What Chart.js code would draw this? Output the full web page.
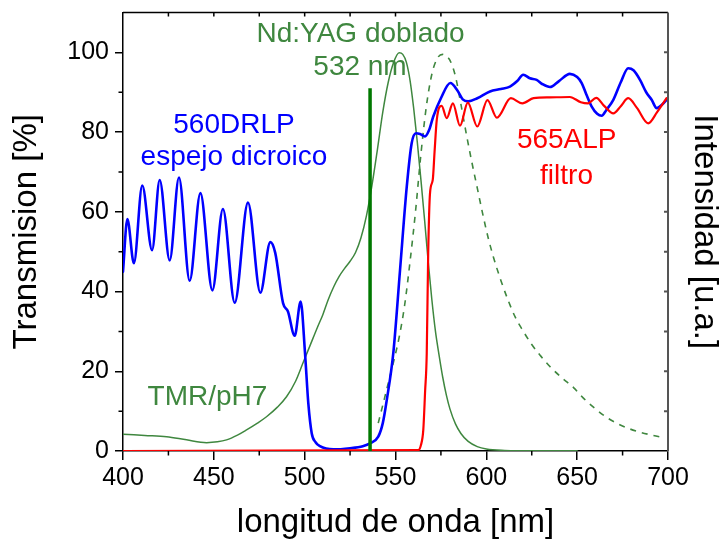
<!DOCTYPE html>
<html>
<head>
<meta charset="utf-8">
<script src="https://cdn.jsdelivr.net/npm/chart.js@4"></script>
<style>
  body { margin: 0; background: #fff; }
  #wrap { width: 720px; height: 540px; }
</style>
</head>
<body>
<div id="wrap"><canvas id="chart" width="720" height="540"></canvas></div>
<script>
// 560DRLP dichroic mirror transmission
const mirrorWl = [400, 402.4, 406, 410.6, 416, 420.2, 425.7, 430.8, 436.7, 442.6, 449.2, 455, 461.5, 468.8, 475.6, 481.1, 483.8, 488.1, 490.8, 494.5, 497.8, 500.2, 502, 503.9, 506, 508.4, 515.8, 525, 532, 536, 540.5, 543, 545.2, 548.8, 552.5, 556.2, 558.9, 561.3, 563.5, 566.2, 568.5, 570.8, 575, 580.2, 584, 587, 590.1, 595, 602, 608, 613, 617, 620.3, 624, 627.7, 631, 635, 640, 646, 650, 652.5, 655, 658, 661, 663.5, 666, 669.9, 674, 678.1, 681, 684.6, 688, 691, 693.8, 696.5, 700];
const mirrorT = [45, 58.2, 47.1, 66.6, 50.4, 68.0, 47.8, 68.6, 42.7, 64.7, 40.3, 60.7, 37.2, 62.3, 39.7, 52.4, 49.7, 37.1, 35, 28.9, 37.5, 24.5, 12, 4.4, 2.2, 1.2, 0.4, 0.7, 1.2, 1.9, 3.6, 7, 12.8, 24.6, 45.4, 66.3, 77.2, 79.7, 79.5, 78.9, 80.5, 83.9, 88.5, 92.3, 90.5, 88.2, 87.7, 88.5, 90.2, 90.8, 91.4, 92.8, 94.4, 93.5, 93.1, 92, 91.3, 92.8, 94.6, 93.8, 92.3, 89.5, 86.4, 84.6, 84.1, 85.5, 88.1, 92.5, 96, 95.5, 93.1, 90, 88.1, 86, 86.8, 88.5];

// 565ALP filter transmission
const filterWl = [400, 562.5, 564, 565.3, 566.3, 567.2, 568, 569, 570.5, 571.5, 572.7, 575.4, 578.2, 581.6, 585.5, 589.8, 595, 600.6, 605.8, 613.5, 619.8, 626, 635, 646, 652, 656, 660.5, 665, 669.9, 674, 678.1, 683, 689.1, 694, 699.2];
const filterT = [0, 0.2, 1.5, 5.3, 15, 24.5, 49.6, 64.7, 68, 75, 83, 86.6, 83.5, 87.2, 81.6, 87.4, 81.4, 88, 83.6, 88.5, 87.2, 88.5, 88.7, 88.8, 87.5, 87.2, 88.6, 86.5, 84.7, 86.5, 88.5, 86, 82.2, 85, 88.5];

// TMR/pH7 absorption (solid) and emission (dashed), a.u.
const absWl = [400, 412, 424, 435, 446, 452, 457, 463, 468, 474, 479, 485, 490, 495, 499, 503, 507, 510, 513, 516, 519, 522, 525, 528, 531, 534, 537, 540, 543, 546, 549, 552, 554, 556, 558, 560, 562, 564, 566, 568, 570, 572, 574, 576, 578, 580, 583, 586, 590, 595, 600, 610, 620, 650];
const absI = [4.2, 3.9, 3.6, 2.8, 2.1, 2.3, 2.8, 4, 5.3, 7, 8.6, 11, 13.6, 17.5, 22, 26.5, 31, 34.2, 38, 41.2, 43.8, 45.8, 47.6, 49.8, 53.5, 59, 66.5, 75.5, 85, 92.5, 97.5, 99.9, 99.5, 97.5, 93, 86, 77.5, 68, 58, 47.5, 38, 30, 24, 18.5, 14, 10.5, 6.8, 4.4, 2.4, 1.1, 0.5, 0.15, 0.08, 0.05];

const emWl = [540.5, 543, 546, 549, 552, 555, 558, 561, 564, 567, 570, 573, 576, 578, 580, 583, 586, 589, 592, 595, 598, 601, 604, 608, 612, 616, 620, 625, 630, 635, 641, 648, 654, 660, 666, 672, 678, 684, 690, 696];
const emI = [7, 11.5, 17, 22.5, 28.5, 36.5, 47.5, 60, 74.5, 86.5, 94.5, 98.5, 99.5, 99, 98, 94, 87, 79.5, 72.5, 66, 59.5, 53.5, 48.5, 42.8, 37.8, 33.5, 30.3, 26.7, 23.8, 21.2, 18.6, 15.9, 13, 10.6, 8.5, 6.9, 5.7, 4.8, 4.1, 3.5];

// Nd:YAG doubled laser line
const laserWl = [536, 536];
const laserI = [0, 91];

const xTicks = [400, 450, 500, 550, 600, 650, 700];
const yTicks = [0, 20, 40, 60, 80, 100];

const FONT = "'Liberation Sans', Arial, sans-serif";
const GREEN = '#3f873f';

function pts(xs, ys) {
  return xs.map((x, i) => ({ x: x, y: ys[i] }));
}

// minor ticks, top/right frame and text labels
const framePlugin = {
  id: 'framePlugin',
  afterDraw(chart) {
    const { ctx, chartArea: a, scales: { x, y } } = chart;
    ctx.save();
    ctx.lineWidth = 1.5;
    ctx.strokeStyle = '#000';
    ctx.beginPath();
    ctx.moveTo(a.left, a.top);
    ctx.lineTo(a.right, a.top);
    for (let v = 425; v < 700; v += 25) {
      const px = x.getPixelForValue(v);
      ctx.moveTo(px, a.top);
      ctx.lineTo(px, a.top + 4);
      if (v % 50 !== 0) {
        ctx.moveTo(px, a.bottom);
        ctx.lineTo(px, a.bottom + 4.5);
      }
    }
    for (let v = 10; v < 110; v += 20) {
      const py = y.getPixelForValue(v);
      ctx.moveTo(a.left, py);
      ctx.lineTo(a.left - 4.5, py);
    }
    ctx.stroke();

    ctx.strokeStyle = '#555';
    ctx.lineWidth = 2;
    ctx.beginPath();
    ctx.moveTo(a.right, a.top);
    ctx.lineTo(a.right, a.bottom);
    for (let v = 10; v <= 100; v += 10) {
      const py = y.getPixelForValue(v);
      ctx.moveTo(a.right, py);
      ctx.lineTo(a.right - 4, py);
    }
    ctx.stroke();

    ctx.font = '28px ' + FONT;
    ctx.textAlign = 'center';
    ctx.textBaseline = 'alphabetic';
    const labels = [
      ['Nd:YAG doblado', 360.5, 42, GREEN],
      ['532 nm', 360, 75, GREEN],
      ['560DRLP', 234, 133, '#0000ff'],
      ['espejo dicroico', 234, 165, '#0000ff'],
      ['565ALP', 566.7, 148, '#ff0000'],
      ['filtro', 566.5, 184, '#ff0000'],
      ['TMR/pH7', 207.5, 405, GREEN]
    ];
    labels.forEach(l => {
      ctx.fillStyle = l[3];
      ctx.fillText(l[0], l[1], l[2]);
    });
    ctx.restore();
  }
};

const lineStyle = { pointRadius: 0, fill: false, cubicInterpolationMode: 'monotone', borderJoinStyle: 'round', borderCapStyle: 'round' };

new Chart(document.getElementById('chart'), {
  type: 'line',
  data: {
    datasets: [
      Object.assign({ data: pts(absWl, absI), borderColor: GREEN, borderWidth: 1.5, order: 5 }, lineStyle),
      Object.assign({ data: pts(emWl, emI), borderColor: GREEN, borderWidth: 1.6, borderDash: [6, 6], order: 4 }, lineStyle, { borderCapStyle: 'butt' }),
      Object.assign({ data: pts(mirrorWl, mirrorT), borderColor: '#0000ff', borderWidth: 2.6, order: 3 }, lineStyle),
      Object.assign({ data: pts(filterWl, filterT), borderColor: '#ff0000', borderWidth: 2.2, order: 2 }, lineStyle),
      { data: pts(laserWl, laserI), borderColor: '#007800', borderWidth: 3.5, pointRadius: 0, order: 1 }
    ]
  },
  options: {
    responsive: false,
    animation: false,
    layout: { padding: { top: 12.5, left: 0, right: 0, bottom: 0 } },
    plugins: { legend: { display: false }, tooltip: { enabled: false } },
    scales: {
      x: {
        type: 'linear',
        min: 400,
        max: 700,
        afterBuildTicks: s => { s.ticks = xTicks.map(v => ({ value: v })); },
        afterFit: s => { s.height = 89; s.paddingLeft = 0; s.paddingRight = 0; },
        grid: { drawOnChartArea: false, color: '#000', lineWidth: 1.5, tickLength: 9 },
        border: { color: '#000', width: 1.5 },
        ticks: { color: '#000', padding: 3, maxRotation: 0, font: { family: FONT, size: 25 } },
        title: { display: true, text: 'longitud de onda [nm]', color: '#000', padding: { top: 0, bottom: 1 }, font: { family: FONT, size: 33, lineHeight: 1 } }
      },
      y: {
        position: 'left',
        min: 0,
        max: 110,
        afterBuildTicks: s => { s.ticks = yTicks.map(v => ({ value: v })); },
        afterFit: s => { s.width = 123; s.paddingTop = 0; s.paddingBottom = 0; },
        grid: { drawOnChartArea: false, color: '#000', lineWidth: 1.5, tickLength: 8 },
        border: { color: '#000', width: 1.5 },
        ticks: { color: '#000', padding: 6, font: { family: FONT, size: 25 } },
        title: { display: true, text: 'Transmision [%]', color: '#000', padding: { top: 10, bottom: 0 }, font: { family: FONT, size: 33, lineHeight: 1 } }
      },
      y2: {
        position: 'right',
        min: 0,
        max: 1,
        afterFit: s => { s.width = 52; s.paddingTop = 0; s.paddingBottom = 0; },
        grid: { display: false },
        border: { display: false },
        ticks: { display: false },
        title: { display: true, text: 'Intensidad [u.a.]', color: '#000', padding: { top: -1, bottom: 0 }, font: { family: FONT, size: 33, lineHeight: 1 } }
      }
    }
  },
  plugins: [framePlugin]
});
</script>
</body>
</html>
